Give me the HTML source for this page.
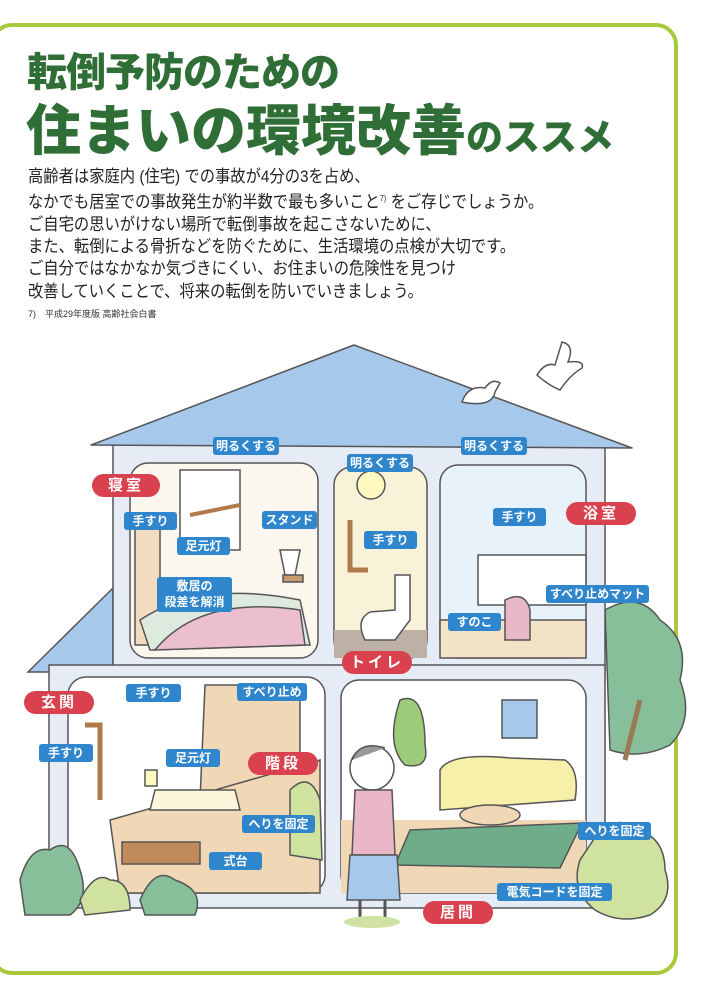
<!DOCTYPE html>
<html><head><meta charset="utf-8"><style>
body{margin:0;width:709px;height:1000px;background:#fff;position:relative;overflow:hidden;font-family:"Liberation Sans","Noto Sans CJK JP",sans-serif}
.frame{position:absolute;left:-10px;top:23px;width:680px;height:944px;border:4px solid #a9c93c;border-radius:22px}
.t1{position:absolute;left:27px;top:40px;font-size:40px;font-weight:900;color:#2f6e36;letter-spacing:-1px;white-space:nowrap}
.t2{position:absolute;left:26px;top:86px;font-size:55px;font-weight:900;color:#2f6e36;white-space:nowrap;letter-spacing:0px}
.t2 span{font-size:37px}
.body{position:absolute;left:28px;top:166px;font-size:17px;line-height:22.2px;color:#222;white-space:nowrap;transform:scaleX(0.9);transform-origin:0 0}
.body sup{font-size:8px}
.fn{position:absolute;left:28px;top:307px;font-size:9px;color:#333}
.b,.r{position:absolute;color:#fff;font-size:12px;font-weight:bold;text-align:center;border-radius:3px;line-height:18px;height:18px;white-space:nowrap}
.b{background:#2f86cc}
.r{background:#d8414d;border-radius:12px;font-size:15px;height:23px;line-height:23px;letter-spacing:3px}
svg{position:absolute;left:0;top:0}
</style></head><body>
<div class="frame"></div>
<div class="t1">転倒予防のための</div>
<div class="t2">住まいの環境改善<span>のススメ</span></div>
<div class="body">高齢者は家庭内 (住宅) での事故が4分の3を占め、<br>なかでも居室での事故発生が約半数で最も多いこと<sup>7)</sup> をご存じでしょうか。<br>ご自宅の思いがけない場所で転倒事故を起こさないために、<br>また、転倒による骨折などを防ぐために、生活環境の点検が大切です。<br>ご自分ではなかなか気づきにくい、お住まいの危険性を見つけ<br>改善していくことで、将来の転倒を防いでいきましょう。</div>
<div class="fn">7)　平成29年度版 高齢社会白書</div>
<svg width="709" height="1000" viewBox="0 0 709 1000">
<g stroke="#555" stroke-width="1.5">
<path d="M605 610 Q640 590 660 620 Q690 640 680 680 Q695 720 670 745 Q640 760 610 750 Z" fill="#86bf99"/>
<path d="M640 700 L625 760" stroke="#9a7a55" stroke-width="5"/>
<polygon points="28,672 113,588 113,672" fill="#a6c8ea"/>
<rect x="113" y="440" width="492" height="230" fill="#e6ecf6"/>
<rect x="49" y="665" width="556" height="243" fill="#e6ecf6"/>
<polygon points="91,445 354,345 632,448" fill="#a6c8ea" stroke-linejoin="round"/>
<rect x="130" y="463" width="188" height="195" rx="18" fill="#fbf6ee"/>
<rect x="334" y="467" width="93" height="191" rx="18" fill="#f8f3d8"/>
<rect x="440" y="465" width="146" height="193" rx="18" fill="#e8f2fb"/>
<rect x="135" y="525" width="25" height="120" fill="#f1dcbf"/>
<path d="M140 620 Q200 580 300 600 L310 645 L150 650 Z" fill="#ddeadd"/>
<path d="M155 650 Q200 595 300 610 L305 645 Z" fill="#ebbfcf"/>
<rect x="180" y="470" width="60" height="80" fill="#fff"/>
<path d="M190 515 L240 505" stroke="#b07a4a" stroke-width="4"/>
<path d="M280 550 L300 550 L295 575 L285 575 Z" fill="#fff"/>
<rect x="283" y="575" width="20" height="7" fill="#c99c70"/>
<circle cx="371" cy="485" r="14" fill="#fff8c0"/>
<path d="M350 520 L350 570 L368 570" fill="none" stroke="#b07a4a" stroke-width="5"/>
<rect x="334" y="630" width="93" height="28" fill="#bdb0a5" stroke="none"/>
<path d="M395 575 L410 575 L410 620 L395 640 L365 640 Q355 620 370 612 L395 610 Z" fill="#fff"/>
<rect x="478" y="555" width="108" height="50" fill="#fff"/>
<path d="M440 620 L586 620 L586 658 L440 658 Z" fill="#f4e2c6"/>
<path d="M505 600 Q525 590 530 610 L530 640 L505 640 Z" fill="#e8b7c8"/>
<rect x="68" y="677" width="257" height="216" rx="18" fill="#fff"/>
<rect x="341" y="680" width="245" height="213" rx="18" fill="#fff"/>
<path d="M205 685 L300 685 L300 800 L200 800 Z" fill="#f0d7b6"/>
<path d="M110 820 L320 760 L320 893 L120 893 Z" fill="#f0d7b6"/>
<path d="M150 810 L240 810 L235 790 L155 790 Z" fill="#fdf6dc"/>
<rect x="122" y="842" width="78" height="22" fill="#c08a5a"/>
<path d="M85 725 L100 725 L100 800" fill="none" stroke="#b07a4a" stroke-width="5"/>
<path d="M145 770 l12 0 l0 16 l-12 0 z" fill="#fff8c0"/>
<rect x="341" y="820" width="245" height="73" fill="#f0d7b6" stroke="none"/>
<path d="M410 830 L582 823 L560 868 L395 865 Z" fill="#6fad8a"/>
<path d="M440 770 Q450 752 510 758 L565 760 Q580 770 575 800 L440 810 Z" fill="#f6f0a8"/>
<ellipse cx="490" cy="815" rx="30" ry="10" fill="#f0d7b6"/>
<rect x="502" y="700" width="35" height="38" fill="#a6c8ea"/>
<path d="M400 700 Q425 690 425 745 Q430 770 405 765 Q385 745 400 700 Z" fill="#9ccc7a"/>
<circle cx="372" cy="768" r="22" fill="#fff"/>
<path d="M352 760 Q360 740 385 748" fill="#999"/>
<path d="M355 790 L392 790 L395 855 L352 855 Z" fill="#eab7c9"/>
<path d="M350 855 L397 855 L400 900 L347 900 Z" fill="#a6c8ea"/>
<path d="M360 900 L360 920 M385 900 L385 920" stroke-width="3"/>
<ellipse cx="372" cy="922" rx="28" ry="6" fill="#cfe2a4" stroke="none"/>
<path d="M600 830 Q620 815 640 830 Q665 840 665 870 Q675 900 650 915 Q620 925 595 910 Q570 890 580 860 Z" fill="#cfe2a0"/>
<path d="M20 880 Q30 845 50 850 Q70 835 80 870 Q90 900 70 915 L25 915 Z" fill="#86bf99"/>
<path d="M80 900 Q95 870 110 880 Q130 880 130 910 L85 915 Z" fill="#cfe2a0"/>
<path d="M140 900 Q155 865 175 880 Q205 890 195 915 L145 915 Z" fill="#86bf99"/>
<path d="M290 790 Q310 770 320 800 L322 860 L290 855 Z" fill="#cfe2a0"/>
</g>
<path d="M462 402 Q468 385 485 388 Q492 378 500 383 L495 392 Q492 408 462 402 Z" fill="#fff" stroke="#555" stroke-width="1.5"/>
<path d="M537 375 Q545 362 555 365 L562 342 Q575 345 568 362 Q585 360 582 368 Q570 375 560 390 Q548 385 537 375 Z" fill="#fff" stroke="#555" stroke-width="1.5"/>
</svg>
<div class="b" style="left:213px;top:437px;width:66px">明るくする</div>
<div class="b" style="left:347px;top:454px;width:66px">明るくする</div>
<div class="b" style="left:461px;top:437px;width:66px">明るくする</div>
<div class="r" style="left:92px;top:474px;width:68px">寝室</div>
<div class="b" style="left:124px;top:512px;width:53px">手すり</div>
<div class="b" style="left:262px;top:511px;width:55px">スタンド</div>
<div class="b" style="left:177px;top:537px;width:53px">足元灯</div>
<div class="b" style="left:364px;top:531px;width:53px">手すり</div>
<div class="b" style="left:493px;top:508px;width:53px">手すり</div>
<div class="r" style="left:566px;top:502px;width:70px">浴室</div>
<div class="b" style="left:157px;top:577px;width:75px;height:34px;line-height:16px;padding-top:1px">敷居の<br>段差を解消</div>
<div class="b" style="left:546px;top:585px;width:103px">すべり止めマット</div>
<div class="b" style="left:448px;top:613px;width:53px">すのこ</div>
<div class="r" style="left:342px;top:651px;width:70px">トイレ</div>
<div class="r" style="left:24px;top:691px;width:70px">玄関</div>
<div class="b" style="left:126px;top:684px;width:55px">手すり</div>
<div class="b" style="left:237px;top:683px;width:70px">すべり止め</div>
<div class="b" style="left:39px;top:744px;width:54px">手すり</div>
<div class="b" style="left:166px;top:749px;width:54px">足元灯</div>
<div class="r" style="left:248px;top:752px;width:70px">階段</div>
<div class="b" style="left:242px;top:815px;width:73px">へりを固定</div>
<div class="b" style="left:578px;top:822px;width:73px">へりを固定</div>
<div class="b" style="left:209px;top:852px;width:53px">式台</div>
<div class="b" style="left:497px;top:883px;width:115px">電気コードを固定</div>
<div class="r" style="left:423px;top:901px;width:70px">居間</div>
</body></html>
